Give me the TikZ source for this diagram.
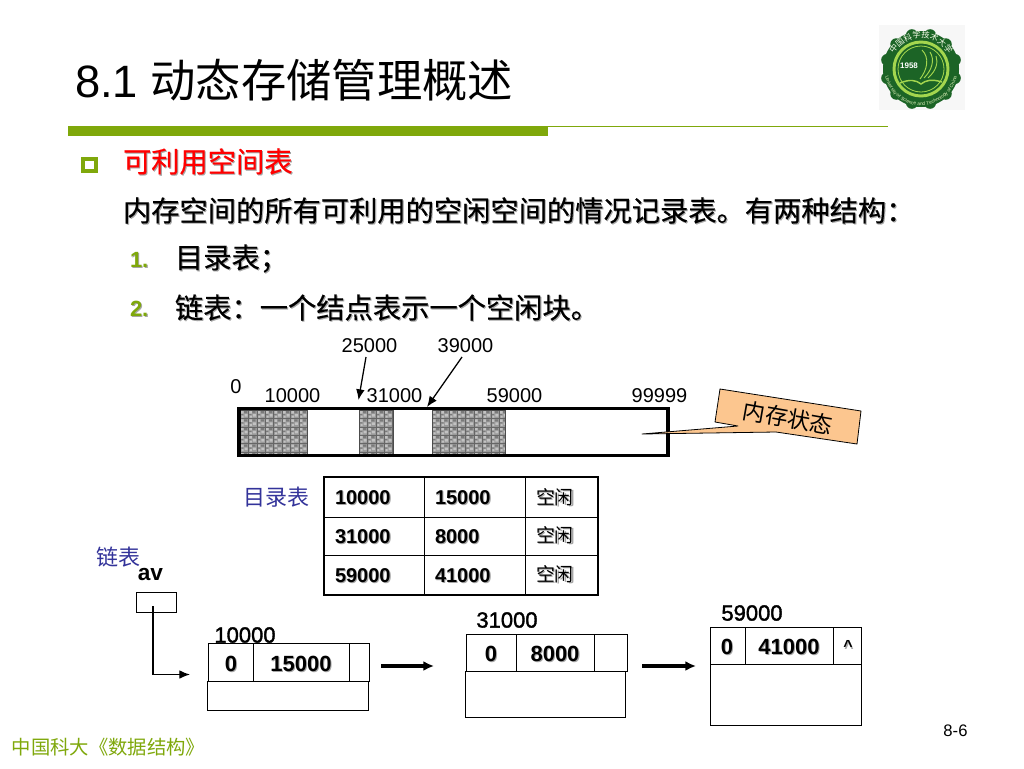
\documentclass[tikz,border=0pt]{standalone}
\usepackage{fontspec}
\setmainfont{Liberation Sans}
\newfontfamily\cjk{Noto Sans CJK SC}
\newfontfamily\cjkb[FakeBold=0.35]{Noto Sans CJK SC}
\newfontfamily\semi[FakeBold=1.6]{Liberation Sans}
\usetikzlibrary{arrows.meta,decorations.text}
\definecolor{pptgreen}{HTML}{7FA80B}
\definecolor{tipblue}{HTML}{33339A}
\definecolor{callfill}{HTML}{FCC68F}
\definecolor{sealgreen}{HTML}{1C6426}
\definecolor{seallight}{HTML}{A4D64E}
\newcommand{\px}[1]{\fontsize{#1}{#1}\selectfont}
\newcommand{\shd}[2][gray!70]{\leavevmode\rlap{\hspace{.8pt}\raisebox{-.8pt}{\textcolor{#1}{#2}}}#2}
\newcommand{\memtiles}[2]{%
  \begin{scope}
    \clip (#1,410) rectangle (#2,454);
    \fill[black!40] (#1,410) rectangle (#2,454);
    \foreach \i in {0,...,8}{\foreach \j in {0,...,5}{
      \begin{scope}[shift={(#1+\i*8.4,410+\j*8.4)}]
        \fill[black!24] (1,1) rectangle (3.5,3.5) (4.5,4) rectangle (7.5,6.5) (1.5,5.5) rectangle (3.5,7.5);
        \fill[black!52] (4,1) rectangle (7,3) (0.5,4) rectangle (3,5);
        \draw[black!60,line width=.4pt] (0,0) rectangle (8.4,8.4);
      \end{scope}
    }}
  \end{scope}
  \draw[black!70,line width=.6pt] (#1,410) rectangle (#2,454);
}
\tikzset{
  x=0.75pt,y=-0.75pt,
  every node/.style={inner sep=0pt,outer sep=0pt},
  lbl/.style={font=\px{15}},
  boldlbl/.style={font=\px{16.5}\bfseries},
  listhead/.style={font=\semi\px{16.5}},
  tcell/.style={font=\px{15}\bfseries,anchor=west},
  zh/.style={font=\cjkb\px{21.2},anchor=west},
  nrm/.style={anchor=west,font=\px{16.5}\bfseries,text=pptgreen},
  thinarrow/.style={line width=.95pt,-{Latex[length=8pt,width=6.5pt]}},
  heavyarrow/.style={line width=2.6pt,-{Latex[length=8pt,width=7.5pt]}},
  chainbox/.style={draw=black,line width=.75pt}
}
\begin{document}
\begin{tikzpicture}
\useasboundingbox (0,0) rectangle (1024,768);
\fill[white] (0,0) rectangle (1024,768);
% title
\node[anchor=west,font=\px{34}] (title) at (75,80) {8.1 {\cjk 动态存储管理概述}};
\fill[pptgreen] (68,126) rectangle (548,136);
\draw[pptgreen,line width=.9pt] (548,126.5) -- (888,126.5);
% seal
\fill[black!3] (879,25) rectangle (965,110);
\fill[sealgreen] (921,69) circle[radius=38];
\foreach \a in {0,30,...,330}{\fill[sealgreen] (921,69)++(\a+15:35) circle[radius=6];}
\draw[seallight,line width=2.2pt] (921,69) circle[radius=27];
\draw[seallight,line width=.6pt] (921,69) circle[radius=23];
\begin{scope}[shift={(921,69)}]
\begin{scope}[x=0.75pt,y=0.75pt]
  \path[decorate,decoration={text along path,text align=center,text={|\cjk\fontsize{6.2}{6.2}\selectfont\color{white!85!seallight}|中国科学技术大学}}] (-31,0) arc[start angle=180,end angle=0,radius=31];
  \path[decorate,decoration={text along path,text align=center,text={|\fontsize{3.6}{3.6}\selectfont\color{white!60!seallight}|University of Science and Technology of China}}] (-36.5,0) arc[start angle=180,end angle=360,radius=36.5];
\end{scope}
\end{scope}
\node[font=\px{6}\bfseries,text=white] (sealyear) at (909,66) {1958};
\draw[seallight,line width=1.1pt] (900,83) .. controls (910,79) and (916,80) .. (921,84) .. controls (926,80) and (932,79) .. (942,82);
\draw[seallight,line width=.7pt] (920,79) .. controls (927,70) and (930,58) .. (922,50);
\draw[seallight,line width=.7pt] (924,78) .. controls (932,70) and (935,60) .. (930,52);
\draw[seallight,line width=.7pt] (928,78) .. controls (937,70) and (938,62) .. (936,56);
% bullets and text
\draw[pptgreen,line width=3.2pt] (83,159) rectangle (96,171);
\node[zh,text=red] (h1) at (123,162) {\shd{可利用空间表}};
\node[zh] (b1) at (123,211) {\shd{内存空间的所有可利用的空闲空间的情况记录表。有两种结构：}};
\node[nrm] (n1) at (130,260) {\shd{1.}};
\node[zh] (b2) at (175,259) {\shd{目录表；}};
\node[nrm] (n2) at (130,309) {\shd{2.}};
\node[zh] (b3) at (175,308) {\shd{链表：一个结点表示一个空闲块。}};
% memory bar
\memtiles{240}{307}
\memtiles{359}{393}
\memtiles{432}{505}
\draw[line width=2.4pt] (239,408.5) rectangle (668,455.5);
\node[lbl] (a25) at (369.5,346) {25000};
\node[lbl] (a39) at (465.5,346) {39000};
\node[lbl] (a0) at (236,387) {0};
\node[lbl] (m1) at (292.5,396) {10000};
\node[lbl] (m2) at (394.5,396) {31000};
\node[lbl] (m3) at (514.5,396) {59000};
\node[lbl] (m4) at (659.5,396) {99999};
\coordinate (p25a) at (366,357);
\coordinate (p25b) at (358.5,400);
\coordinate (p39a) at (462,357);
\coordinate (p39b) at (427,407);
\draw[thinarrow] (p25a) -- (p25b);
\draw[thinarrow] (p39a) -- (p39b);
% callout
\draw[black,line width=.6pt,fill=callfill,line join=round] (720,389) -- (861,411) -- (857,444) -- (776,432) -- (642,434) -- (738,426) -- (715,422) -- cycle;
\node[font=\cjk\px{17},rotate=-10] (callout) at (788,418) {内存状态};
% directory table
\draw[line width=.8pt] (424.5,477) -- (424.5,595) (525.5,477) -- (525.5,595) (324,517.5) -- (598,517.5) (324,555.5) -- (598,555.5);
\draw[line width=2.2pt] (324,477) rectangle (598,595);
\node[font=\cjk\px{16.5},text=tipblue] (dir) at (276,497) {目录表};
\foreach \n/\y/\a/\b in {r1/498.5/10000/15000,r2/537/31000/8000,r3/576/59000/41000}{
  \node[tcell] (\n a) at (335,\y) {\shd{\a}};
  \node[tcell] (\n b) at (435,\y) {\shd{\b}};
  \node[font=\cjk\px{14.2},anchor=west] (\n c) at (536,\y-1) {\shd{空闲}};
}
% linked list
\node[font=\cjk\px{16.5},text=tipblue] (lk) at (118.5,557) {链表};
\node[font=\px{17}\bfseries] (av) at (150.5,575) {av};
\node[chainbox,minimum width=30pt,minimum height=15pt,line width=.7pt] (avbox) at (156,602) {};
\coordinate (avs) at (153,606);
\coordinate (avt) at (190,674.5);
\draw[thinarrow] (avs) |- (avt);
% node 1
\node[listhead] (l1) at (245,635) {10000};
\draw[chainbox] (208.5,643.5) rectangle (369.5,681.5);
\draw[chainbox] (253.5,643.5) -- (253.5,681.5) (349.5,643.5) -- (349.5,681.5);
\draw[chainbox] (207.5,681.5) rectangle (368.5,710.5);
\node[boldlbl] (c1a) at (231,664) {\shd{0}};
\node[boldlbl] (c1b) at (301,664) {\shd{15000}};
\coordinate (e1a) at (381,666);
\coordinate (e1b) at (434,666);
\draw[heavyarrow] (e1a) -- (e1b);
% node 2
\node[listhead] (l2) at (507,620) {31000};
\draw[chainbox] (466.5,634.5) rectangle (627.5,671.5);
\draw[chainbox] (516.5,634.5) -- (516.5,671.5) (594.5,634.5) -- (594.5,671.5);
\draw[chainbox] (465.5,671.5) rectangle (625.5,717.5);
\node[boldlbl] (c2a) at (491,654.5) {\shd{0}};
\node[boldlbl] (c2b) at (555,654.5) {\shd{8000}};
\coordinate (e2a) at (642,666);
\coordinate (e2b) at (696,666);
\draw[heavyarrow] (e2a) -- (e2b);
% node 3
\node[listhead] (l3) at (752,613) {59000};
\draw[chainbox] (710.5,627.5) rectangle (861.5,664.5);
\draw[chainbox] (745.5,627.5) -- (745.5,664.5) (833.5,627.5) -- (833.5,664.5);
\draw[chainbox] (710.5,664.5) rectangle (861.5,725);
\node[boldlbl] (c3a) at (727,647) {\shd{0}};
\node[boldlbl] (c3b) at (789,647) {\shd{41000}};
\node[font=\px{12}\bfseries] (c3c) at (848,647) {\shd{\textasciicircum}};
% footer
\node[anchor=west,font=\cjk\px{14.5},text=pptgreen] (foot) at (12,747) {中国科大《数据结构》};
\node[font=\px{12.5}] (pg) at (955.5,731) {8-6};
\end{tikzpicture}
\end{document}
